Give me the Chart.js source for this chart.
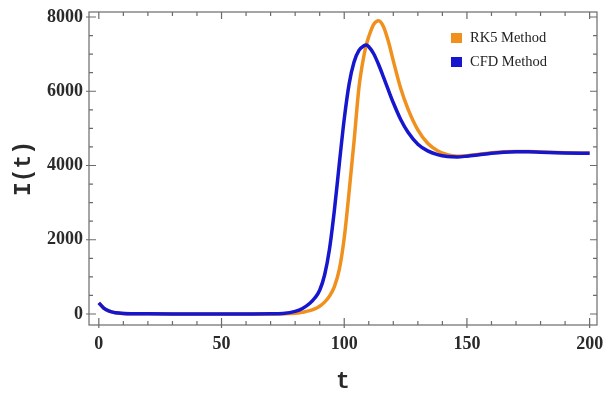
<!DOCTYPE html>
<html>
<head>
<meta charset="utf-8">
<script src="https://cdn.jsdelivr.net/npm/chart.js@4/dist/chart.umd.min.js"></script>
<style>
    body { margin: 0; background: #ffffff; }
    #area_grafico { width: 605px; height: 393px; }
</style>
</head>
<body>
<div id="area_grafico"><canvas id="grafico"></canvas></div>
<script>
// t values shared by both methods
var tempo = [0, 2, 4, 6, 8, 10, 20, 30, 40, 50, 60, 70, 75, 80, 83, 86, 88, 90, 92, 94, 96, 98,
    100, 102, 104, 106, 108, 109, 110, 112, 114, 116, 118, 120, 123, 126, 130, 134, 138, 142,
    146, 150, 155, 160, 165, 170, 175, 180, 190, 200];

var rk5 = [300, 160, 85, 45, 25, 15, 4, 2, 2, 2, 2, 3, 6, 20, 50, 90, 140, 210, 320, 480, 740, 1200,
    2050, 3300, 4650, 6100, 6950, 7250, 7470, 7800, 7900, 7740, 7340, 6820, 6080, 5520, 4960, 4600, 4400, 4290,
    4250, 4262, 4302, 4342, 4368, 4380, 4378, 4365, 4345, 4335];

var cfd = [300, 160, 85, 45, 25, 15, 5, 3, 3, 3, 3, 5, 15, 70, 150, 290, 430, 640, 1050, 1750, 2800, 4050,
    5250, 6200, 6790, 7100, 7225, 7245, 7200, 7010, 6720, 6380, 6030, 5690, 5240, 4895, 4575, 4395, 4295, 4243,
    4231, 4252, 4292, 4332, 4360, 4372, 4370, 4360, 4340, 4330];

var ticksX = [0, 50, 100, 150, 200];
var ticksY = [0, 2000, 4000, 6000, 8000];

var corLaranja = '#f0911e';
var corAzul = '#1616cf';

function pontos(valores) {
    var lista = [];
    for (var i = 0; i < tempo.length; i++) {
        lista.push({ x: tempo[i], y: valores[i] });
    }
    return lista;
}

// frame with inward ticks (major + minor) on all four sides, plus the legend box
var moldura = {
    id: 'moldura',
    afterDraw: function (chart) {
        var ctx = chart.ctx;
        var a = chart.chartArea;
        var sx = chart.scales.x;
        var sy = chart.scales.y;
        ctx.save();
        ctx.strokeStyle = '#6b6b6b';
        ctx.lineWidth = 1.2;
        ctx.strokeRect(a.left, a.top, a.right - a.left, a.bottom - a.top);

        ctx.beginPath();
        for (var v = 0; v <= 200; v += 10) {
            var px = sx.getPixelForValue(v);
            var tam = (v % 50 == 0) ? 7 : 4;
            ctx.moveTo(px, a.bottom + (v % 50 == 0 ? 3 : 0));
            ctx.lineTo(px, a.bottom - tam);
            ctx.moveTo(px, a.top);
            ctx.lineTo(px, a.top + tam);
        }
        for (var w = 0; w <= 8000; w += 500) {
            var py = sy.getPixelForValue(w);
            var tam2 = (w % 2000 == 0) ? 7 : 4;
            ctx.moveTo(a.left - (w % 2000 == 0 ? 3 : 0), py);
            ctx.lineTo(a.left + tam2, py);
            ctx.moveTo(a.right, py);
            ctx.lineTo(a.right - tam2, py);
        }
        ctx.stroke();

        // legend
        var itens = chart.data.datasets;
        ctx.font = '14.5px "Liberation Serif"';
        ctx.textBaseline = 'middle';
        for (var i = 0; i < itens.length; i++) {
            var y = 38 + i * 24;
            ctx.fillStyle = itens[i].borderColor;
            ctx.fillRect(451, y - 5, 11, 10);
            ctx.fillStyle = '#222222';
            ctx.fillText(itens[i].label, 470, y);
        }
        ctx.restore();
    }
};

var fonteTicks = { family: '"Liberation Serif"', size: 18, weight: 'bold' };
var fonteTitulo = { family: '"Liberation Mono"', size: 23, weight: 'bold' };

function semVirgula(valor) {
    return String(valor);
}

var config = {
    type: 'line',
    data: {
        datasets: [{
            label: 'RK5 Method',
            data: pontos(rk5),
            borderColor: corLaranja,
            borderWidth: 3.5,
            pointRadius: 0,
            cubicInterpolationMode: 'monotone',
            order: 1
        }, {
            label: 'CFD Method',
            data: pontos(cfd),
            borderColor: corAzul,
            borderWidth: 3.5,
            pointRadius: 0,
            cubicInterpolationMode: 'monotone',
            order: 0
        }]
    },
    options: {
        responsive: false,
        animation: false,
        layout: { padding: { left: 0, top: 12, right: 8, bottom: 0 } },
        plugins: {
            legend: { display: false },
            tooltip: { enabled: false }
        },
        scales: {
            x: {
                type: 'linear',
                min: -4,
                max: 203,
                grid: { display: false, drawTicks: false },
                border: { display: false },
                afterBuildTicks: function (s) {
                    s.ticks = ticksX.map(function (v) { return { value: v }; });
                },
                afterFit: function (s) {
                    s.height = 68;
                    s.paddingLeft = 0;
                    s.paddingRight = 0;
                },
                ticks: { color: '#2a2a2a', font: fonteTicks, padding: 9, maxRotation: 0, callback: semVirgula },
                title: { display: true, text: 't', color: '#2a2a2a', font: fonteTitulo, padding: { top: 12, bottom: -3 } }
            },
            y: {
                type: 'linear',
                min: -296,
                max: 8135,
                grid: { display: false, drawTicks: false },
                border: { display: false },
                afterBuildTicks: function (s) {
                    s.ticks = ticksY.map(function (v) { return { value: v }; });
                },
                afterFit: function (s) {
                    s.width = 89;
                    s.paddingTop = 0;
                    s.paddingBottom = 0;
                },
                ticks: { color: '#2a2a2a', font: fonteTicks, padding: 6, callback: semVirgula },
                title: { display: true, text: 'I(t)', color: '#2a2a2a', font: fonteTitulo, padding: { top: 10, bottom: 6 } }
            }
        }
    },
    plugins: [moldura]
};

var canva = document.getElementById('grafico');
canva.width = 605;
canva.height = 393;
window.grafico = new Chart(canva.getContext('2d'), config);
</script>
</body>
</html>
